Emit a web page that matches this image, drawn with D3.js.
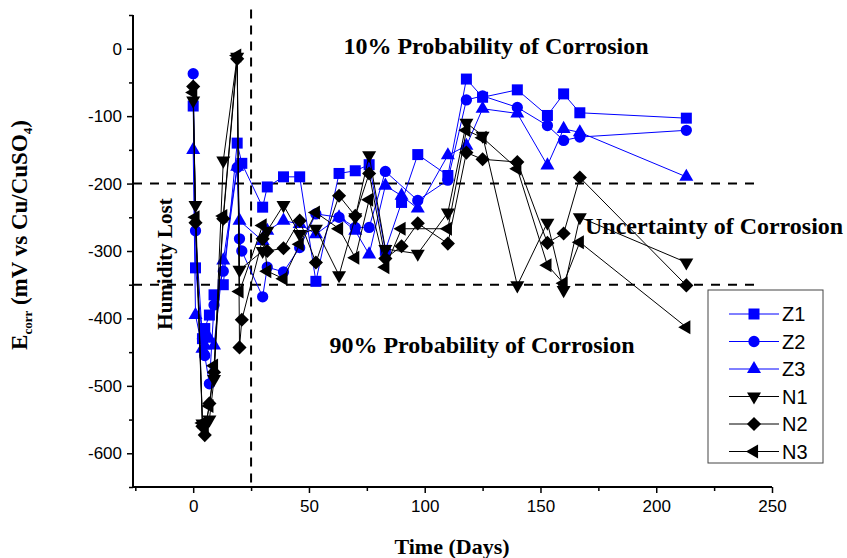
<!DOCTYPE html>
<html>
<head>
<meta charset="utf-8">
<script src="https://cdn.jsdelivr.net/npm/d3@7"></script>
<style>
  body { margin: 0; background: #fff; }
  svg { display: block; }
  .tick text { font-family: "Liberation Sans", Arial, sans-serif; font-size: 17px; }
  .serif { font-family: "Liberation Serif", "Times New Roman", serif; font-weight: bold; }
</style>
</head>
<body>
<div id="chart"></div>
<script>
// measurement days shared by all series (null = no reading that day)
const days = [0, 1, 4, 5, 7, 9, 13, 19, 20, 21, 30, 32, 39, 46, 53, 63, 70, 76, 83, 90, 97, 110, 118, 125, 140, 153, 160, 167, 213];

const z1 = [-85, -325, -430, -415, -395, -365, -350, -140, null, -170, -235, -205, -190, -190, -345, -185, -181, -172, -299, -228, -157, -188, -45, -72, -61, -99, -67, -95, -103];
const z2 = [-37, -270, -430, -455, -497, -380, -330, -176, -282, -300, -368, -324, -331, -295, -245, -250, -265, -265, -182, null, -225, -195, -76, -70, -87, -114, -136, -131, -121];
const z3 = [-150, -395, -445, -440, -430, -440, -314, -175, -255, null, -285, -270, -255, -260, -275, -250, -270, -305, -203, -218, -237, -158, -144, -89, -96, -173, -119, -124, -190];
const n1 = [-77, -232, -556, -560, -550, -490, -166, -12, -328, null, -300, -270, -232, -275, -267, -336, -250, -158, -297, null, -304, -243, -110, -129, -351, -258, -358, -250, -317];
const n2 = [-56, -258, -560, -573, -526, -480, -252, -15, -443, -402, -282, -300, -296, -255, -317, -218, -248, -185, -311, -293, -259, -289, -154, -164, -168, -288, -274, -191, -351];
const n3 = [-65, -250, -555, -562, -530, -470, -248, -10, -360, null, -262, -330, -341, -290, -243, -267, -310, -224, -324, -267, null, -267, -121, -132, -178, -321, -348, -287, -413];

const seriesNames = ["Z1", "Z2", "Z3", "N1", "N2", "N3"];
const seriesValues = [z1, z2, z3, n1, n2, n3];

// corrosion thresholds and the humidity-lost day
const thresholds = [-200, -350];
const humidityDay = 25;

const xTicks = [-25, 0, 25, 50, 75, 100, 125, 150, 175, 200, 225, 250];
const yTicks = [-650, -600, -550, -500, -450, -400, -350, -300, -250, -200, -150, -100, -50, 0, 50];

const width = 847, height = 558;

const svg = d3.select("#chart").append("svg")
  .attr("width", width)
  .attr("height", height);

const x = d3.scaleLinear().domain([-26, 250]).range([133, 772]);
const y = d3.scaleLinear().domain([-650, 50]).range([487, 15]);

// symbol per series
const sq = d3.symbol().type(d3.symbolSquare).size(121)();
const circ = d3.symbol().type(d3.symbolCircle).size(100)();
const tri = d3.symbol().type(d3.symbolTriangle).size(85)();
const dia = d3.symbol().type(d3.symbolSquare).size(100)();
const styles = [
  { color: "#0000ff", path: sq, rot: 0 },
  { color: "#0000ff", path: circ, rot: 0 },
  { color: "#0000ff", path: tri, rot: 0 },
  { color: "#000", path: tri, rot: 180 },
  { color: "#000", path: dia, rot: 45 },
  { color: "#000", path: tri, rot: -90 }
];

// dashed reference lines
svg.selectAll(".thr")
  .data(thresholds)
  .enter()
  .append("line")
  .attr("x1", x(-26))
  .attr("x2", x(245))
  .attr("y1", d => y(d))
  .attr("y2", d => y(d))
  .attr("stroke", "#000")
  .attr("stroke-width", 2)
  .attr("stroke-dasharray", "9,8");

svg.append("line")
  .attr("x1", x(humidityDay))
  .attr("x2", x(humidityDay))
  .attr("y1", y(58))
  .attr("y2", y(-650))
  .attr("stroke", "#000")
  .attr("stroke-width", 2)
  .attr("stroke-dasharray", "9,7");

// axes
const xAxis = d3.axisBottom(x)
  .tickValues(xTicks)
  .tickSize(6)
  .tickPadding(7)
  .tickFormat(d => d % 50 === 0 ? d : "");
const gx = svg.append("g")
  .attr("transform", `translate(0,${y(-650)})`)
  .call(xAxis);
gx.selectAll(".tick line").attr("y2", d => d % 50 === 0 ? 6 : 4);

const yAxis = d3.axisLeft(y)
  .tickValues(yTicks)
  .tickSize(6)
  .tickPadding(5)
  .tickFormat(d => d % 100 === 0 && d <= 0 ? d : "");
const gy = svg.append("g")
  .attr("transform", `translate(${x(-26)},0)`)
  .call(yAxis);
gy.selectAll(".tick line").attr("x2", d => d % 100 === 0 ? -6 : -4);

[gx, gy].forEach(g => {
  g.select(".domain").attr("stroke-width", 2);
  g.selectAll(".tick line").attr("stroke-width", 1.5);
});
gx.select(".domain").attr("d", `M${x(-26)},0H${x(250)}`);
gy.select(".domain").attr("d", `M0,${y(50)}V${y(-650)}`);

// series
const line = d3.line().x(d => x(d[0])).y(d => y(d[1]));

seriesValues.forEach((vals, i) => {
  const pts = days.map((d, j) => [d, vals[j]]).filter(p => p[1] !== null);
  const st = styles[i];
  const g = svg.append("g");
  g.append("path")
    .datum(pts)
    .attr("d", line)
    .attr("fill", "none")
    .attr("stroke", st.color)
    .attr("stroke-width", 1);
  g.selectAll("path.mk")
    .data(pts)
    .enter()
    .append("path")
    .attr("class", "mk")
    .attr("d", st.path)
    .attr("transform", d => `translate(${x(d[0])},${y(d[1])}) rotate(${st.rot})`)
    .attr("fill", st.color);
});

// annotations
svg.append("text").attr("class", "serif")
  .attr("x", 496).attr("y", 54)
  .attr("text-anchor", "middle")
  .style("font-size", "24px")
  .text("10% Probability of Corrosion");

svg.append("text").attr("class", "serif")
  .attr("x", 585).attr("y", 234)
  .style("font-size", "24px")
  .text("Uncertainty of Corrosion");

svg.append("text").attr("class", "serif")
  .attr("x", 482).attr("y", 353)
  .attr("text-anchor", "middle")
  .style("font-size", "24px")
  .text("90% Probability of Corrosion");

svg.append("text").attr("class", "serif")
  .attr("transform", "translate(172,264) rotate(-90)")
  .attr("text-anchor", "middle")
  .style("font-size", "21px")
  .text("Humidity Lost");

// axis titles
svg.append("text").attr("class", "serif")
  .attr("x", 452).attr("y", 554)
  .attr("text-anchor", "middle")
  .style("font-size", "22px")
  .text("Time (Days)");

const yt = svg.append("text").attr("class", "serif")
  .attr("transform", "translate(27,235) rotate(-90)")
  .attr("text-anchor", "middle")
  .style("font-size", "23px");
yt.append("tspan").text("E");
yt.append("tspan").attr("dy", 5).style("font-size", "13px").text("corr");
yt.append("tspan").attr("dy", -5).text(" (mV vs Cu/CuSO");
yt.append("tspan").attr("dy", 5).style("font-size", "13px").text("4");
yt.append("tspan").attr("dy", -5).text(")");

// legend
const legend = svg.append("g").attr("transform", "translate(708,290)");
legend.append("rect")
  .attr("width", 115).attr("height", 173)
  .attr("fill", "#fff")
  .attr("stroke", "#444")
  .attr("stroke-width", 1);

seriesNames.forEach((name, i) => {
  const st = styles[i];
  const ly = 24 + i * 27.5;
  legend.append("line")
    .attr("x1", 21).attr("x2", 71)
    .attr("y1", ly).attr("y2", ly)
    .attr("stroke", st.color).attr("stroke-width", 1);
  legend.append("path")
    .attr("d", st.path)
    .attr("transform", `translate(46,${ly}) rotate(${st.rot})`)
    .attr("fill", st.color);
  legend.append("text")
    .attr("x", 74).attr("y", ly + 7)
    .style("font-family", "'Liberation Sans', Arial, sans-serif")
    .style("font-size", "20px")
    .text(name);
});
</script>
</body>
</html>
